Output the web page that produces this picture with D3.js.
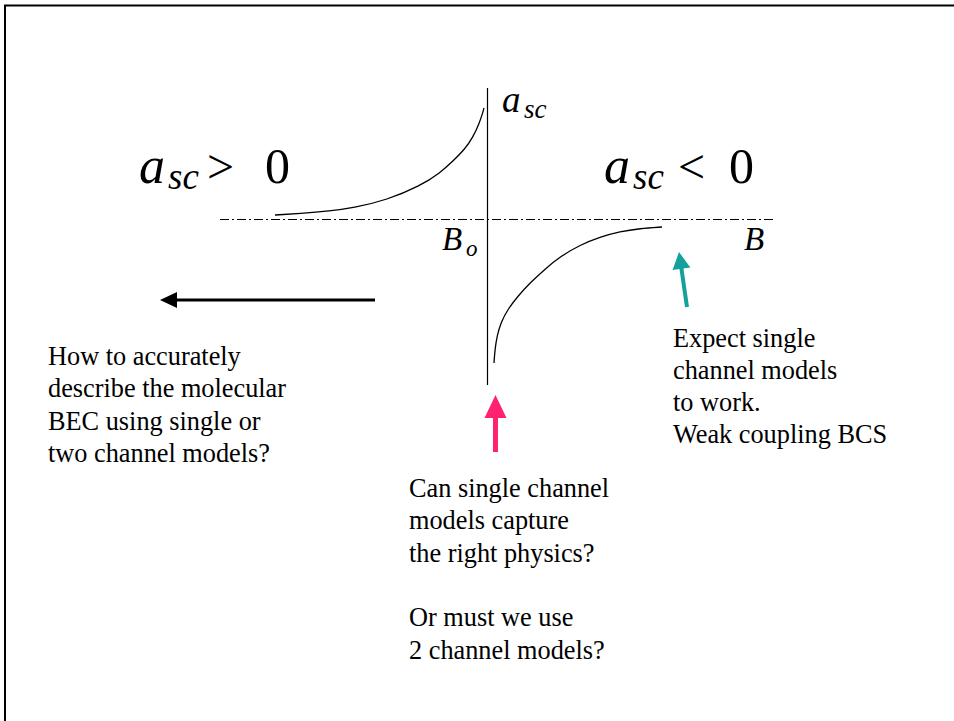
<!DOCTYPE html>
<html>
<head>
<meta charset="utf-8">
<script src="https://cdn.jsdelivr.net/npm/d3@7"></script>
<style>
  html, body { margin: 0; padding: 0; background: #fff; }
  svg { display: block; }
  .txt { font-family: "Liberation Serif", "Times New Roman", serif; fill: #000; }
</style>
</head>
<body>
<svg id="chart" width="954" height="721"></svg>
<script>
// ---------- data (B relative to resonance B0, a_sc in arbitrary units) ----------
const B0 = 0;
const bDomain = [-2.67, 2.86];
const aDomain = [-1.66, 1.31];

// a_sc > 0 branch (below resonance)
const leftBranchB = [-2.12, -1.87, -1.57, -1.34, -1.00, -0.67, -0.47, -0.34, -0.22, -0.14, -0.08, -0.04, -0.03];
const leftBranchA = [0.04, 0.055, 0.08, 0.11, 0.19, 0.33, 0.46, 0.58, 0.70, 0.82, 0.95, 1.07, 1.11];

// a_sc < 0 branch (above resonance)
const rightBranchB = [0.07, 0.08, 0.10, 0.14, 0.21, 0.31, 0.43, 0.58, 0.74, 0.93, 1.13, 1.33, 1.53, 1.75];
const rightBranchA = [-1.44, -1.30, -1.17, -1.03, -0.90, -0.77, -0.64, -0.50, -0.37, -0.26, -0.18, -0.125, -0.095, -0.08];

// annotation arrows (data units): [B, a]
const arrowNames  = ["bec", "bcs", "mid"];
const arrowFrom   = [[-1.12, -0.81], [2.00, -0.88], [0.085, -2.33]];
const arrowTo     = [[-3.27, -0.81], [1.92, -0.33], [0.085, -1.76]];
const arrowColors = ["#000000", "#14a09b", "#ff2270"];

// text blocks
const leftText   = ["How to accurately", "describe the molecular", "BEC using single or", "two channel models?"];
const rightText  = ["Expect single", "channel models", "to work.", "Weak coupling BCS"];
const centerText = ["Can single channel", "models capture", "the right physics?", "", "Or must we use", "2 channel models?"];

// ---------- drawing ----------
const svg = d3.select("#chart");
const x = d3.scaleLinear().domain(bDomain).range([220, 773]);
const y = d3.scaleLinear().domain(aDomain).range([385, 88]);

// slide frame (top and left edges)
svg.append("line").attr("x1", 4).attr("x2", 954).attr("y1", 5.5).attr("y2", 5.5)
  .attr("stroke", "#000").attr("stroke-width", 2);
svg.append("line").attr("x1", 5).attr("x2", 5).attr("y1", 5).attr("y2", 721)
  .attr("stroke", "#000").attr("stroke-width", 2);

// horizontal dash-dot axis at a_sc = 0
svg.append("line")
  .attr("x1", x(bDomain[0])).attr("x2", x(bDomain[1]))
  .attr("y1", y(0) + 0.5).attr("y2", y(0) + 0.5)
  .attr("stroke", "#000").attr("stroke-width", 1)
  .attr("stroke-dasharray", "9,3,2,3");

// vertical axis at B0
svg.append("line")
  .attr("x1", x(B0) + 0.5).attr("x2", x(B0) + 0.5)
  .attr("y1", y(aDomain[1])).attr("y2", y(aDomain[0]))
  .attr("stroke", "#000").attr("stroke-width", 1.2);

const line = d3.line().x(d => x(d[0])).y(d => y(d[1])).curve(d3.curveBasis);
const leftPts = leftBranchB.map((b, i) => [b, leftBranchA[i]]);
const rightPts = rightBranchB.map((b, i) => [b, rightBranchA[i]]);
[leftPts, rightPts].forEach(pts => {
  svg.append("path").attr("d", line(pts))
    .attr("fill", "none").attr("stroke", "#000").attr("stroke-width", 1.3);
});

// arrows
const headSpec = { bec: [17, 8, 3], bcs: [17, 9, 4], mid: [23, 11, 5] };
arrowNames.forEach((name, i) => {
  const [fx, fy] = [x(arrowFrom[i][0]), y(arrowFrom[i][1])];
  const [tx, ty] = [x(arrowTo[i][0]), y(arrowTo[i][1])];
  const [L, W, sw] = headSpec[name];
  const dx = tx - fx, dy = ty - fy, len = Math.hypot(dx, dy);
  const ux = dx / len, uy = dy / len, px = -uy, py = ux;
  const bx = tx - ux * L, by = ty - uy * L;
  svg.append("line").attr("x1", fx).attr("y1", fy).attr("x2", bx + ux * 1).attr("y2", by + uy * 1)
    .attr("stroke", arrowColors[i]).attr("stroke-width", sw);
  svg.append("path")
    .attr("d", `M${tx},${ty}L${bx + px * W},${by + py * W}L${bx - px * W},${by - py * W}Z`)
    .attr("fill", arrowColors[i]);
});

// math labels
function mathLabel(parts) {
  const t = svg.append("text").attr("class", "txt");
  parts.forEach(p => {
    t.append("tspan").attr("x", p.x).attr("y", p.y)
      .attr("font-size", p.size).attr("font-style", p.italic ? "italic" : "normal")
      .text(p.s);
  });
}
// a_sc (axis label)
mathLabel([{ s: "a", x: 502, y: 112, size: 37, italic: true },
           { s: "sc", x: 524, y: 118, size: 27, italic: true }]);
// a_sc > 0
mathLabel([{ s: "a", x: 139, y: 183, size: 52, italic: true },
           { s: "sc", x: 168, y: 189, size: 37, italic: true },
           { s: ">", x: 207, y: 183, size: 48, italic: false },
           { s: "0", x: 265, y: 183, size: 50, italic: false }]);
// a_sc < 0
mathLabel([{ s: "a", x: 604, y: 183, size: 52, italic: true },
           { s: "sc", x: 633, y: 189, size: 37, italic: true },
           { s: "<", x: 678, y: 183, size: 48, italic: false },
           { s: "0", x: 729, y: 183, size: 50, italic: false }]);
// B_o
mathLabel([{ s: "B", x: 442, y: 250, size: 33, italic: true },
           { s: "o", x: 466, y: 256, size: 23, italic: true }]);
// B
mathLabel([{ s: "B", x: 744, y: 250, size: 33, italic: true }]);

// text blocks
function textBlock(lines, x0, y0, lh) {
  const t = svg.append("text").attr("class", "txt").attr("font-size", 26.3);
  lines.forEach((s, i) => {
    t.append("tspan").attr("x", x0).attr("y", y0 + i * lh).text(s);
  });
}
textBlock(leftText, 48, 365, 32.3);
textBlock(rightText, 673, 347, 32);
textBlock(centerText, 409, 497, 32.3);
</script>
</body>
</html>
